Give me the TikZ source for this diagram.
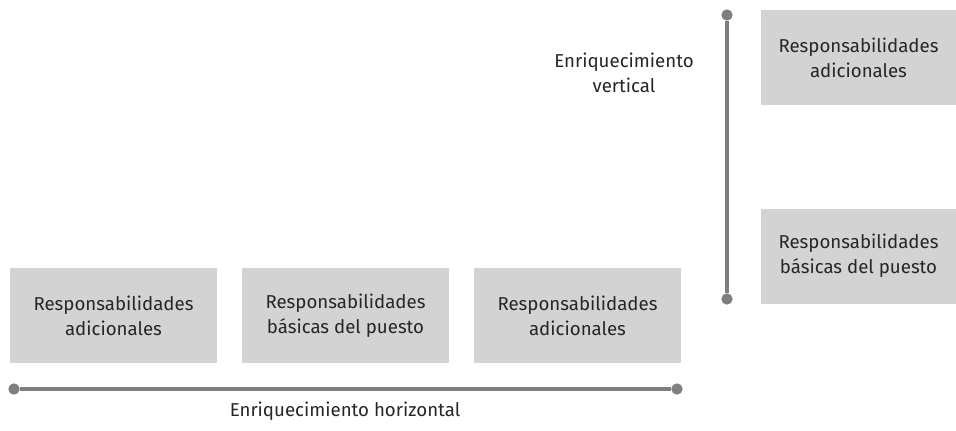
\documentclass[tikz,border=0pt]{standalone}
\usepackage{fontspec}
\setmainfont{Fira Sans}
\usetikzlibrary{positioning}
\definecolor{boxgray}{HTML}{D3D3D3}
\definecolor{linegray}{HTML}{7F7F7F}
\definecolor{txt}{HTML}{262626}

\begin{document}
\begin{tikzpicture}[x=0.75pt,y=-0.75pt,
  resp/.style={fill=boxgray,minimum width=155.25pt,minimum height=71.25pt,
    align=center,text=txt,font=\fontsize{14}{18.75}\selectfont,inner sep=0pt},
  respr/.style={resp,minimum width=146.25pt},
  axislabel/.style={align=center,text=txt,font=\fontsize{14}{18.75}\selectfont},
  axisline/.style={draw=linegray,line width=2.3pt},
  dot/.style={circle,fill=linegray,inner sep=0pt,minimum size=8.5pt},
]
  \useasboundingbox (0,0) rectangle (956,431);
  % horizontal row
  \node[resp] (r1) at (113.5,315.5) {Responsabilidades\\adicionales};
  \node[resp] (r2) at (345.5,315.5) {Responsabilidades\\básicas del puesto};
  \node[resp] (r3) at (577.5,315.5) {Responsabilidades\\adicionales};
  \node[dot] (h1) at (14,389) {};
  \node[dot] (h2) at (677,389) {};
  \draw[axisline] (h1) -- (h2);
  \node[axislabel] (hl) at (345,411) {Enriquecimiento horizontal};
  % vertical column
  \node[respr] (v1) at (858.5,57.5) {Responsabilidades\\adicionales};
  \node[respr] (v2) at (858.5,256) {Responsabilidades\\básicas del puesto};
  \node[dot] (t1) at (727,15) {};
  \node[dot] (t2) at (727,299) {};
  \draw[axisline] (t1) -- (t2);
  \node[axislabel] (vl) at (624,73) {Enriquecimiento\\vertical};
\end{tikzpicture}
\end{document}
